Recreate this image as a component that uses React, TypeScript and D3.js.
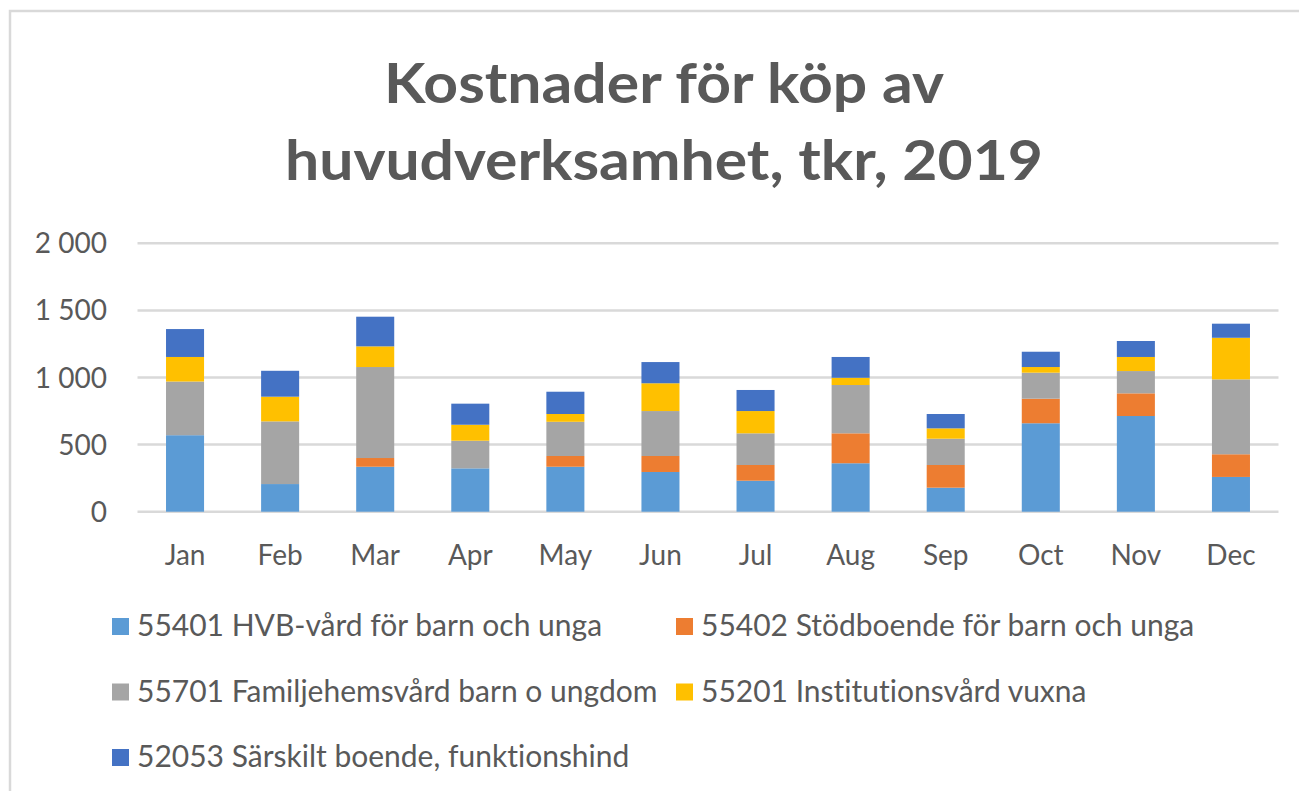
import React, { useEffect } from "react";
import * as d3 from "d3";

const months = ["Jan", "Feb", "Mar", "Apr", "May", "Jun", "Jul", "Aug", "Sep", "Oct", "Nov", "Dec"];
const seriesNames = [
  "55401 HVB-vård för barn och unga",
  "55402 Stödboende för barn och unga",
  "55701 Familjehemsvård barn o ungdom",
  "55201 Institutionsvård vuxna",
  "52053 Särskilt boende, funktionshind",
];
const hvb = [570, 206, 335, 323, 335, 296, 231, 361, 179, 659, 713, 259];
const stodboende = [0, 0, 65, 0, 80, 119, 117, 223, 169, 183, 169, 169];
const familjehem = [400, 467, 678, 206, 255, 335, 236, 360, 196, 194, 166, 558];
const institution = [183, 184, 154, 119, 58, 207, 166, 54, 77, 42, 105, 310];
const sarskilt = [208, 193, 221, 157, 166, 158, 157, 155, 107, 114, 119, 105];
const yTicks = [0, 500, 1000, 1500, 2000];
const colors = ["#5B9BD5", "#ED7D31", "#A5A5A5", "#FFC000", "#4472C4"];
const titleLines = ["Kostnader för köp av", "huvudverksamhet, tkr, 2019"];

const FONT = "Lato, 'Open Sans', sans-serif";
const TEXT = "#595959";
const noLig = { fontVariantLigatures: "none" as const };

export default function App() {
  useEffect(() => {
    document.body.style.margin = "0";
  }, []);

  const W = 1299;
  const H = 791;
  const values = [hvb, stodboende, familjehem, institution, sarskilt];
  const keys = seriesNames.map((_, i) => "s" + i);
  const rows = months.map((m, j) => {
    const r: any = { month: m };
    keys.forEach((k, i) => (r[k] = values[i][j]));
    return r;
  });
  const stacked = d3.stack<any>().keys(keys)(rows);

  const x = d3.scaleBand<string>().domain(months).range([137.5, 1278.5]).paddingInner(0.6).paddingOuter(0.3);
  const y = d3.scaleLinear().domain([0, 2000]).range([511.7, 243.3]);
  const fmt = (v: number) => d3.format(",")(v).replace(/,/g, " ");

  const legendPos = [
    { x: 112, y: 618 },
    { x: 676, y: 618 },
    { x: 112, y: 683.5 },
    { x: 676, y: 683.5 },
    { x: 112, y: 749 },
  ];

  return (
    <svg width={W} height={H} style={{ display: "block", background: "#fff" }}>
      <rect x={10} y={11} width={W + 20} height={H + 20} fill="#fff" stroke="#d9d9d9" strokeWidth={2.5} />
      {titleLines.map((t, i) => (
        <text
          key={i}
          x={664}
          y={103 + i * 77}
          textAnchor="middle"
          fontFamily={FONT}
          fontWeight={700}
          fontSize={56}
          fill={TEXT}
          style={noLig}
          textLength={i === 0 ? 560 : 758}
          lengthAdjust="spacingAndGlyphs"
        >
          {t}
        </text>
      ))}
      {yTicks.map((t) => (
        <g key={t}>
          <line x1={137.5} x2={1278.5} y1={y(t)} y2={y(t)} stroke="#d9d9d9" strokeWidth={2.5} />
          <text x={107} y={y(t)} dy="0.36em" textAnchor="end" fontFamily={FONT} fontSize={28} fill={TEXT}>
            {fmt(t)}
          </text>
        </g>
      ))}
      {stacked.map((s, i) => (
        <g key={s.key} fill={colors[i]}>
          {s.map((d, j) => {
            const h = y(d[0]) - y(d[1]);
            if (h <= 0) return null;
            return <rect key={j} x={x(months[j])} y={y(d[1])} width={x.bandwidth()} height={h} />;
          })}
        </g>
      ))}
      {months.map((m) => (
        <text
          key={m}
          x={(x(m) as number) + x.bandwidth() / 2}
          y={565}
          textAnchor="middle"
          fontFamily={FONT}
          fontSize={28}
          fill={TEXT}
        >
          {m}
        </text>
      ))}
      {seriesNames.map((n, i) => (
        <g key={n} transform={`translate(${legendPos[i].x},${legendPos[i].y})`}>
          <rect width={17} height={17} fill={colors[i]} />
          <text x={25} y={18} fontFamily={FONT} fontSize={30} fill={TEXT} style={noLig}>
            {n}
          </text>
        </g>
      ))}
    </svg>
  );
}
